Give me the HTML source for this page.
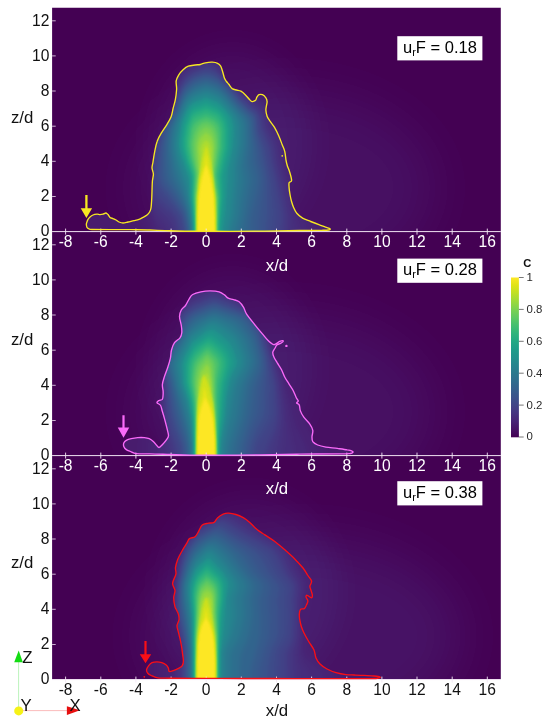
<!DOCTYPE html>
<html><head><meta charset="utf-8"><title>plume</title><style>
html,body{margin:0;padding:0;background:#fff}
svg{display:block}
text{font-family:"Liberation Sans",sans-serif}
</style></head><body>
<svg width="550" height="725" viewBox="0 0 550 725">
<defs>
<filter id="vir" color-interpolation-filters="sRGB" filterUnits="userSpaceOnUse" x="0" y="0" width="550" height="725"><feComponentTransfer><feFuncR type="table" tableValues="0.267 0.275 0.280 0.283 0.283 0.279 0.273 0.265 0.254 0.243 0.230 0.218 0.207 0.194 0.184 0.173 0.164 0.155 0.145 0.136 0.128 0.122 0.119 0.123 0.135 0.158 0.186 0.220 0.267 0.312 0.369 0.422 0.478 0.546 0.606 0.678 0.741 0.804 0.876 0.936 0.993"/><feFuncG type="table" tableValues="0.005 0.038 0.073 0.111 0.141 0.175 0.205 0.233 0.265 0.292 0.322 0.347 0.372 0.399 0.422 0.449 0.471 0.493 0.519 0.541 0.567 0.589 0.611 0.637 0.659 0.684 0.705 0.726 0.749 0.768 0.789 0.806 0.821 0.838 0.851 0.864 0.873 0.882 0.891 0.899 0.906"/><feFuncB type="table" tableValues="0.329 0.365 0.397 0.432 0.458 0.483 0.502 0.517 0.530 0.539 0.546 0.550 0.553 0.556 0.557 0.558 0.558 0.558 0.557 0.554 0.551 0.546 0.539 0.529 0.518 0.502 0.485 0.466 0.441 0.416 0.383 0.352 0.318 0.276 0.237 0.190 0.150 0.115 0.095 0.108 0.144"/></feComponentTransfer></filter>
<filter id="bf" color-interpolation-filters="sRGB" filterUnits="userSpaceOnUse" x="0" y="0" width="550" height="725"><feGaussianBlur stdDeviation="2.6"/></filter>
<filter id="bm" color-interpolation-filters="sRGB" filterUnits="userSpaceOnUse" x="0" y="0" width="550" height="725"><feGaussianBlur stdDeviation="1.6"/></filter>
<filter id="bc" color-interpolation-filters="sRGB" filterUnits="userSpaceOnUse" x="0" y="0" width="550" height="725"><feGaussianBlur stdDeviation="1.3"/></filter>
<filter id="b1" color-interpolation-filters="sRGB" filterUnits="userSpaceOnUse" x="-100" y="-100" width="750" height="925"><feGaussianBlur stdDeviation="1"/></filter>
<filter id="b2" color-interpolation-filters="sRGB" filterUnits="userSpaceOnUse" x="-100" y="-100" width="750" height="925"><feGaussianBlur stdDeviation="2"/></filter>
<filter id="b3" color-interpolation-filters="sRGB" filterUnits="userSpaceOnUse" x="-100" y="-100" width="750" height="925"><feGaussianBlur stdDeviation="3"/></filter>
<filter id="b4" color-interpolation-filters="sRGB" filterUnits="userSpaceOnUse" x="-100" y="-100" width="750" height="925"><feGaussianBlur stdDeviation="4"/></filter>
<filter id="b6" color-interpolation-filters="sRGB" filterUnits="userSpaceOnUse" x="-100" y="-100" width="750" height="925"><feGaussianBlur stdDeviation="6"/></filter>
<filter id="b8" color-interpolation-filters="sRGB" filterUnits="userSpaceOnUse" x="-100" y="-100" width="750" height="925"><feGaussianBlur stdDeviation="8"/></filter>
<filter id="b10" color-interpolation-filters="sRGB" filterUnits="userSpaceOnUse" x="-100" y="-100" width="750" height="925"><feGaussianBlur stdDeviation="10"/></filter>
<filter id="b12" color-interpolation-filters="sRGB" filterUnits="userSpaceOnUse" x="-100" y="-100" width="750" height="925"><feGaussianBlur stdDeviation="12"/></filter>
<filter id="b16" color-interpolation-filters="sRGB" filterUnits="userSpaceOnUse" x="-100" y="-100" width="750" height="925"><feGaussianBlur stdDeviation="16"/></filter>
<filter id="b20" color-interpolation-filters="sRGB" filterUnits="userSpaceOnUse" x="-100" y="-100" width="750" height="925"><feGaussianBlur stdDeviation="20"/></filter>
<filter id="b26" color-interpolation-filters="sRGB" filterUnits="userSpaceOnUse" x="-100" y="-100" width="750" height="925"><feGaussianBlur stdDeviation="26"/></filter>
<clipPath id="c0"><rect x="52.1" y="7.7" width="448.7" height="223.9"/></clipPath>
<clipPath id="c1"><rect x="52.1" y="231.6" width="448.7" height="224.00000000000003"/></clipPath>
<clipPath id="c2"><rect x="52.1" y="455.6" width="448.7" height="223.69999999999993"/></clipPath>
<linearGradient id="cb" x1="0" y1="1" x2="0" y2="0">
<stop offset="0.00" stop-color="#440154"/>
<stop offset="0.05" stop-color="#471365"/>
<stop offset="0.10" stop-color="#482475"/>
<stop offset="0.15" stop-color="#463480"/>
<stop offset="0.20" stop-color="#414487"/>
<stop offset="0.25" stop-color="#3b528b"/>
<stop offset="0.30" stop-color="#355f8d"/>
<stop offset="0.35" stop-color="#2f6c8e"/>
<stop offset="0.40" stop-color="#2a788e"/>
<stop offset="0.45" stop-color="#25848e"/>
<stop offset="0.50" stop-color="#21918c"/>
<stop offset="0.55" stop-color="#1e9c89"/>
<stop offset="0.60" stop-color="#22a884"/>
<stop offset="0.65" stop-color="#2fb47c"/>
<stop offset="0.70" stop-color="#44bf70"/>
<stop offset="0.75" stop-color="#5ec962"/>
<stop offset="0.80" stop-color="#7ad151"/>
<stop offset="0.85" stop-color="#9bd93c"/>
<stop offset="0.90" stop-color="#bddf26"/>
<stop offset="0.95" stop-color="#dfe318"/>
<stop offset="1.00" stop-color="#fde725"/>
</linearGradient>
</defs>
<rect width="550" height="725" fill="#fff"/>
<clipPath id="cc0"><path d="M110.0 229.6C103.7 229.6 95.5 229.6 92.0 229.5C88.5 229.4 89.8 229.2 89.0 228.8C88.2 228.5 87.4 228.0 87.0 227.4C86.6 226.8 86.5 225.7 86.4 225.0C86.3 224.3 86.3 223.9 86.6 223.0C86.9 222.1 87.4 220.4 88.0 219.4C88.6 218.4 89.2 217.7 90.0 217.0C90.8 216.3 91.8 215.5 93.0 215.0C94.2 214.5 95.8 214.3 97.0 214.2C98.2 214.1 99.0 214.6 100.0 214.6C101.0 214.6 102.0 214.5 103.0 214.2C104.0 213.9 105.2 212.9 106.0 213.0C106.8 213.1 107.3 213.9 108.0 214.6C108.7 215.3 109.2 216.7 110.0 217.4C110.8 218.1 112.0 218.2 113.0 218.6C114.0 219.0 115.0 219.4 116.0 220.0C117.0 220.6 117.8 221.5 119.0 222.0C120.2 222.5 121.5 223.0 123.0 223.0C124.5 223.0 126.2 222.4 128.0 222.0C129.8 221.6 132.2 221.0 134.0 220.6C135.8 220.2 137.5 219.9 139.0 219.4C140.5 218.9 141.7 218.1 143.0 217.4C144.3 216.7 145.9 215.9 147.0 215.0C148.1 214.1 148.9 213.2 149.6 212.0C150.3 210.8 150.7 209.8 151.0 208.0C151.3 206.2 151.4 203.8 151.6 201.0C151.8 198.2 151.9 194.3 152.0 191.0C152.1 187.7 152.2 183.8 152.4 181.0C152.6 178.2 153.5 176.2 153.4 174.0C153.3 171.8 152.1 170.0 152.0 168.0C151.9 166.0 152.6 164.7 153.0 162.0C153.4 159.3 154.0 155.1 154.7 151.6C155.4 148.1 156.0 144.4 157.2 141.2C158.3 138.0 160.0 135.3 161.6 132.6C163.2 129.9 165.1 127.4 166.7 124.8C168.3 122.2 169.9 119.7 171.0 117.0C172.1 114.3 172.4 111.3 173.1 108.4C173.8 105.5 174.7 103.0 175.3 99.8C175.9 96.6 176.4 92.7 176.6 89.5C176.8 86.3 175.8 83.4 176.2 80.9C176.6 78.5 177.7 76.7 178.8 74.8C180.0 72.9 181.5 71.1 183.1 69.7C184.7 68.3 186.3 67.0 188.3 66.2C190.3 65.4 193.2 65.3 195.2 65.0C197.2 64.7 198.6 64.9 200.3 64.5C202.0 64.1 203.5 63.2 205.5 62.8C207.5 62.4 210.4 62.1 212.4 62.2C214.4 62.3 216.2 62.6 217.6 63.3C219.0 64.0 219.8 64.7 220.7 66.2C221.6 67.7 222.2 70.2 222.8 72.2C223.4 74.2 223.9 76.8 224.5 78.3C225.1 79.8 225.8 80.5 226.5 81.5C227.2 82.5 227.9 83.1 228.8 84.3C229.8 85.5 230.9 87.6 232.2 88.6C233.5 89.5 235.1 89.6 236.6 90.0C238.1 90.4 239.5 90.4 240.9 91.2C242.3 92.0 243.8 93.3 245.2 94.7C246.6 96.1 248.3 98.3 249.5 99.5C250.7 100.7 251.1 101.5 252.1 101.6C253.1 101.7 254.7 101.0 255.5 100.3C256.3 99.6 256.3 98.1 256.9 97.2C257.5 96.3 258.1 95.1 259.0 94.7C259.9 94.3 261.2 94.2 262.4 94.7C263.5 95.2 265.1 96.7 265.9 97.8C266.7 98.9 267.0 100.2 267.1 101.6C267.2 102.9 266.6 104.5 266.4 105.9C266.2 107.3 265.8 108.5 265.9 110.2C266.0 111.9 266.4 114.3 267.1 116.2C267.8 118.1 269.0 119.5 270.2 121.4C271.4 123.3 273.1 125.0 274.5 127.4C275.9 129.8 277.5 133.1 278.8 136.0C280.1 138.9 281.2 142.1 282.2 144.7C283.2 147.3 284.2 149.0 284.8 151.6C285.4 154.2 285.6 157.8 286.0 160.2C286.4 162.6 286.8 164.1 287.4 166.0C288.0 167.9 288.8 169.1 289.5 171.5C290.2 173.9 291.7 178.6 291.6 180.5C291.5 182.4 289.5 181.5 289.1 182.7C288.7 183.9 289.0 185.9 289.1 187.9C289.2 189.9 289.6 192.3 290.0 194.5C290.4 196.7 290.8 198.8 291.4 201.0C292.0 203.2 292.7 205.5 293.6 207.6C294.5 209.7 295.3 211.5 296.8 213.3C298.3 215.1 300.3 216.8 302.6 218.2C304.9 219.6 308.0 220.4 310.7 221.5C313.4 222.6 316.4 223.8 318.9 224.7C321.4 225.6 323.6 226.5 325.5 227.2C327.4 227.9 329.5 228.3 330.0 228.8C330.5 229.3 330.0 229.8 328.7 230.0C327.4 230.2 326.8 230.2 322.0 230.3C317.2 230.4 309.5 230.4 300.0 230.5C290.5 230.6 276.7 231.0 265.0 231.1C253.3 231.2 243.3 231.3 230.0 231.3C216.7 231.3 195.8 231.3 185.0 231.2C174.2 231.1 170.8 230.8 165.0 230.6C159.2 230.4 155.8 230.2 150.0 230.0C144.2 229.8 136.7 229.8 130.0 229.7C123.3 229.6 116.3 229.6 110.0 229.6Z"/></clipPath>
<g clip-path="url(#c0)"><g filter="url(#vir)">
<rect x="50.1" y="5.7" width="452.7" height="227.9" fill="#000"/>
<ellipse cx="285.3" cy="187.7" rx="149.3" ry="96.6" fill="#fff" opacity="0.045" filter="url(#b26)"/>
<ellipse cx="232.6" cy="143.8" rx="79.1" ry="96.6" fill="#fff" opacity="0.03" filter="url(#b16)"/>
<g clip-path="url(#cc0)"><g filter="url(#bf)">
<rect x="32.1" y="-12.3" width="488.7" height="263.9" fill="#131313"/>
<path d="M326.2 245.7 325.8 231.6 322.4 215.8 311.6 194.8 307.3 184.2 304.4 171.9 300.5 161.3 298.7 143.8 290.3 127.9 283.2 106.9 281.1 103.3 277.3 99.8 262.4 92.8 253.6 86.8 250.6 84.0 244.1 75.2 236.1 60.1 232.6 57.2 227.3 54.7 223.2 50.6 220.2 45.4 215.0 31.3 211.2 26.0 206.2 22.4 201.2 26.0 197.4 31.3 195.0 36.6 191.7 47.1 188.6 52.4 185.1 55.8 179.8 59.0 171.4 66.4 167.5 68.8 164.7 71.7 163.1 75.2 159.9 87.5 153.9 105.1 150.6 110.4 146.5 114.8 141.2 124.0 135.9 139.8 133.1 161.3 130.1 177.1 130.4 191.2 131.7 200.0 134.8 210.5 137.7 217.1 142.9 225.1 144.9 229.8 145.8 235.1 146.1 245.7Z" fill="#161616"/>
<path d="M317.4 245.7 317.1 231.6 314.5 219.3 311.8 212.3 303.6 196.5 299.2 185.9 295.7 171.9 291.8 161.3 290.1 145.5 280.7 124.4 275.5 110.4 273.0 106.9 265.9 99.7 250.1 89.9 243.1 84.8 234.9 73.5 229.6 64.7 212.0 47.1 206.2 39.9 200.8 47.1 192.1 56.9 181.6 64.1 173.3 73.5 171.5 77.0 167.7 89.3 160.5 103.3 156.9 108.6 148.2 118.9 145.0 124.4 142.1 131.5 139.1 142.0 133.6 175.4 133.6 184.2 135.6 194.7 138.6 203.5 150.0 224.6 152.1 233.4 152.5 245.7Z" fill="#191919"/>
<path d="M308.7 245.7 308.5 233.4 307.0 224.6 304.2 215.8 297.6 202.5 294.0 190.6 290.5 182.2 288.1 171.9 285.3 164.9 283.8 147.3 282.8 142.0 279.1 133.2 274.3 126.2 270.4 113.9 267.1 106.9 264.4 103.3 258.9 98.6 241.3 88.1 237.8 82.4 232.6 77.5 218.5 58.4 211.5 52.8 206.2 51.0 197.4 56.8 192.1 61.8 183.4 67.0 180.5 70.0 177.0 77.0 171.1 96.4 163.8 106.9 153.6 117.4 149.7 122.7 146.2 129.7 142.6 142.0 137.1 175.4 137.2 182.4 140.8 194.7 151.7 215.9 154.5 226.3 158.4 233.4 159.3 236.9 159.6 245.7Z" fill="#1d1d1d"/>
<path d="M299.9 245.7 299.0 229.8 294.0 213.9 291.7 200.0 285.3 177.6 282.2 163.1 279.4 143.8 276.7 136.7 270.4 126.2 265.5 110.4 262.4 105.9 257.7 101.6 241.3 91.1 236.1 83.7 225.7 73.5 216.7 61.3 211.5 57.1 208.0 56.1 202.7 58.2 186.9 68.0 181.6 72.9 177.3 82.3 171.1 103.7 159.7 115.6 152.8 124.4 149.6 131.5 146.2 143.8 141.2 175.4 141.6 182.4 143.3 187.7 148.2 198.0 155.2 220.1 162.3 227.6 164.3 231.6 165.2 236.9 165.3 245.7Z" fill="#212121"/>
<path d="M292.8 245.7 292.6 231.6 290.8 212.3 287.8 196.5 279.2 161.3 277.1 145.5 275.3 140.2 268.3 127.9 264.6 113.9 262.4 110.0 257.9 105.1 250.1 99.7 246.6 96.3 241.3 93.2 235.7 85.8 225.5 76.1 216.7 64.9 209.7 59.6 206.2 60.2 197.4 64.4 186.9 70.8 182.5 75.2 177.5 85.8 171.1 106.9 165.8 111.9 160.0 119.2 155.5 126.2 154.0 129.7 150.2 143.8 145.4 173.6 145.5 180.6 148.2 188.7 151.2 201.7 155.2 213.3 164.4 222.8 168.5 229.8 169.7 235.1 170.0 245.7Z" fill="#242424"/>
<path d="M289.0 245.7 288.6 217.5 285.9 200.0 276.7 161.3 274.6 145.5 272.5 140.2 266.8 129.7 263.2 115.6 261.4 112.1 257.2 107.2 250.1 102.3 246.2 98.1 241.3 94.9 234.3 86.2 225.5 78.2 216.7 67.7 209.7 62.7 206.2 63.1 197.4 66.9 188.6 71.9 183.4 76.9 178.6 85.8 172.2 106.9 171.1 108.9 167.4 112.1 161.1 120.9 155.9 131.5 154.4 136.7 148.6 175.4 149.6 187.7 152.0 198.2 155.2 207.1 167.6 219.3 172.1 226.3 174.0 233.4 174.4 245.7Z" fill="#282828"/>
<path d="M285.3 245.7 285.8 217.5 283.9 203.5 278.1 175.4 274.8 163.1 272.6 147.3 270.8 142.0 264.6 129.7 261.2 115.6 257.2 109.5 250.1 104.5 246.1 99.8 241.3 96.4 234.0 87.5 225.5 79.9 218.5 71.5 213.2 67.4 209.7 65.5 208.0 65.4 204.4 66.1 193.9 70.6 188.6 73.9 183.4 79.3 178.3 89.3 173.2 106.9 171.1 110.4 167.4 113.9 161.7 122.7 156.7 135.0 155.0 142.0 150.2 177.1 150.3 182.4 151.7 190.7 153.5 197.4 157.0 203.4 171.9 217.5 174.6 221.2 176.8 231.6 177.2 245.7Z" fill="#2c2c2c"/>
<path d="M281.5 245.7 281.7 233.4 283.1 217.5 282.2 208.8 276.2 177.1 272.4 161.3 270.3 147.3 262.6 129.7 259.3 115.6 256.1 110.4 250.1 106.4 246.0 101.6 241.3 97.8 232.6 87.5 225.5 81.4 218.5 73.2 215.0 70.5 209.7 67.9 206.2 67.5 192.1 73.3 186.9 77.4 182.8 82.3 178.6 91.0 173.2 108.6 167.3 115.6 161.4 126.2 157.0 139.2 155.7 145.5 151.6 177.1 151.7 182.4 153.1 189.4 155.2 194.9 158.8 199.8 174.6 215.2 175.8 217.5 179.4 231.6 179.8 245.7Z" fill="#323232"/>
<path d="M273.8 245.7 274.2 231.6 276.3 214.0 272.3 180.6 265.6 147.3 258.7 129.7 257.8 119.2 256.9 115.6 254.6 112.1 249.3 108.6 237.8 97.0 230.8 88.3 225.5 83.9 218.5 76.0 213.2 73.1 206.2 71.0 193.9 75.3 188.6 79.2 183.4 85.0 178.9 94.6 174.6 109.1 167.5 118.6 163.7 126.2 159.5 140.2 157.7 149.0 155.0 175.4 155.5 182.4 159.7 191.2 176.2 210.5 180.5 217.5 183.4 228.7 184.0 245.7Z" fill="#393939"/>
<path d="M265.9 245.7 266.1 231.6 268.0 212.3 267.7 180.6 261.6 147.3 256.5 131.5 255.5 117.4 253.6 114.1 248.4 110.4 241.3 103.3 229.4 89.3 223.8 84.5 218.5 78.6 213.2 76.1 206.2 73.9 193.9 78.1 186.9 84.0 183.4 88.3 179.7 96.3 174.6 111.7 169.1 119.2 165.6 126.2 160.5 147.3 158.9 173.6 159.5 180.6 162.3 186.5 167.5 192.7 182.2 214.0 183.5 217.5 185.7 229.8 186.4 245.7Z" fill="#414141"/>
<path d="M258.0 245.7 258.6 222.8 262.4 190.5 263.0 178.9 262.1 171.9 259.2 161.3 257.7 147.3 254.5 133.2 253.6 118.1 251.8 115.6 237.8 102.3 228.7 91.0 218.5 81.1 206.2 76.6 193.9 80.8 184.7 89.3 180.4 98.1 175.5 112.1 169.9 120.9 167.4 126.2 165.5 133.2 163.0 147.3 162.6 171.9 163.4 178.9 164.9 182.4 178.1 202.0 183.4 211.1 185.3 217.5 187.6 229.8 188.3 245.7Z" fill="#494949"/>
<path d="M250.2 245.7 250.7 217.5 256.6 191.2 258.2 180.6 257.8 175.4 254.2 161.3 254.1 147.3 252.2 133.2 251.8 120.9 251.3 119.2 248.6 115.6 236.4 103.3 227.3 92.0 218.5 83.8 206.2 79.2 193.9 83.6 185.1 91.6 181.6 98.7 176.3 112.9 169.2 126.2 167.4 133.2 165.6 145.5 165.8 162.5 167.2 177.1 169.4 182.4 178.1 196.3 185.1 210.8 188.8 228.1 189.4 245.7Z" fill="#525252"/>
<path d="M242.2 245.7 242.9 229.8 251.0 180.6 250.5 175.4 247.6 163.1 249.3 145.5 248.6 122.7 246.1 117.4 236.1 106.6 226.2 94.6 218.5 87.4 206.2 82.8 193.9 87.4 185.1 95.7 171.7 126.2 170.3 131.5 169.2 140.2 169.0 152.5 171.6 173.6 173.2 178.9 178.1 187.9 186.9 209.3 190.3 229.8 190.7 245.7Z" fill="#5c5c5c"/>
<path d="M234.5 245.7 234.9 233.4 239.2 217.5 241.2 198.2 243.9 182.4 243.6 177.1 241.8 166.6 245.0 143.8 244.8 124.4 243.9 120.9 242.0 117.4 225.5 97.7 218.5 91.3 206.2 86.5 193.9 91.2 188.6 95.7 185.1 99.9 174.3 126.2 172.0 138.5 171.9 150.8 174.8 168.3 186.9 202.1 188.6 210.5 191.3 228.1 191.7 245.7Z" fill="#666666"/>
<path d="M229.7 245.7 230.2 231.6 234.7 212.3 237.3 180.6 237.2 164.8 240.8 143.8 240.4 124.4 238.8 119.2 236.6 115.6 223.8 100.0 218.5 95.2 206.2 90.3 193.9 95.0 190.1 98.1 185.1 104.3 176.8 126.2 174.5 140.2 174.5 149.0 176.0 157.8 186.9 193.4 190.4 212.8 192.1 225.9 192.5 245.7Z" fill="#707070"/>
<path d="M225.5 245.7 225.8 231.6 229.4 214.0 232.3 182.4 232.4 166.6 236.6 143.8 236.5 126.2 234.0 117.4 230.7 112.1 225.5 105.9 218.5 99.2 206.2 94.2 193.9 98.9 190.4 101.5 186.9 106.0 183.4 113.2 180.0 122.7 177.1 140.2 177.0 147.3 178.6 156.0 187.6 184.2 189.3 200.0 192.1 216.8 193.1 245.7Z" fill="#7a7a7a"/>
</g><g filter="url(#bm)">
<path d="M222.4 245.7 222.6 229.8 225.3 208.8 227.7 170.1 232.2 147.3 233.1 135.0 233.0 126.2 232.0 120.9 229.6 115.6 222.5 106.9 218.5 103.2 206.2 98.1 193.9 102.7 190.7 105.1 188.6 107.8 185.3 113.9 182.1 122.7 179.6 138.5 179.4 145.5 180.5 152.5 188.6 175.9 189.6 180.6 190.1 196.5 192.1 210.1 193.1 222.8 193.7 245.7Z" fill="#858585"/>
<path d="M219.9 245.7 220.3 225.3 223.7 198.2 223.6 175.4 229.5 147.3 229.7 127.9 228.0 119.2 226.1 115.6 222.0 110.6 217.7 106.9 206.2 102.0 193.9 106.6 190.4 109.6 186.9 116.2 183.9 124.4 181.8 138.5 181.7 145.5 182.5 150.8 186.0 163.1 190.4 174.7 191.1 178.9 191.1 194.7 193.9 225.8 194.2 245.7Z" fill="#8f8f8f"/>
<path d="M218.6 245.7 218.8 229.8 221.8 196.5 221.0 175.4 226.9 147.3 227.1 129.7 225.4 120.9 220.3 113.0 216.7 110.2 206.2 105.9 193.9 110.4 190.7 113.9 185.8 126.2 183.9 138.5 184.3 149.0 187.3 161.3 191.1 171.9 192.2 177.1 192.2 196.5 193.9 217.5 194.5 245.7Z" fill="#999999"/>
<path d="M218.2 245.7 218.5 220.9 220.1 196.5 219.0 175.4 224.5 147.3 224.6 131.5 222.9 122.7 218.6 115.6 216.3 113.9 206.2 109.8 194.8 113.9 192.1 116.4 188.1 126.2 186.0 140.2 185.9 145.5 187.1 152.5 189.0 161.3 192.5 171.9 193.4 177.1 192.9 196.5 194.6 224.6 194.9 245.7Z" fill="#a3a3a3"/>
<path d="M217.8 245.7 219.0 196.5 217.2 175.4 222.1 147.3 222.0 131.5 220.6 124.4 217.4 119.2 213.2 116.5 206.2 113.7 197.4 116.9 193.7 119.2 191.8 122.7 190.0 127.9 188.1 140.2 188.0 145.5 189.0 152.5 194.4 175.4 193.7 196.5 195.3 245.7Z" fill="#adadad"/>
<path d="M217.4 245.7 218.1 196.5 215.7 173.6 219.8 147.3 219.7 135.0 218.6 127.9 216.7 124.1 213.2 120.8 206.2 117.8 198.4 120.9 193.9 125.3 192.1 129.7 190.3 142.0 190.3 147.3 191.7 157.8 195.0 170.1 195.6 175.4 194.3 196.5 195.7 245.7Z" fill="#b8b8b8"/>
<path d="M217.1 245.7 217.5 196.5 214.9 180.6 214.5 173.6 217.5 149.0 217.6 140.2 216.5 133.2 214.6 127.9 211.5 124.3 206.2 122.0 200.9 124.1 197.2 127.9 194.2 135.0 192.7 143.8 193.6 156.0 196.7 173.6 195.0 196.5 196.1 245.7Z" fill="#c2c2c2"/>
<path d="M216.7 245.7 216.9 198.2 214.3 182.4 213.7 173.6 215.6 143.8 214.4 136.7 212.4 131.5 209.7 128.5 206.2 126.8 201.0 129.7 199.2 132.2 196.6 138.5 195.3 145.5 195.7 154.3 197.8 171.9 195.6 198.2 196.5 245.7Z" fill="#cccccc"/>
<path d="M216.1 245.7 216.2 200.0 213.7 184.2 212.7 171.9 213.6 145.5 211.5 137.3 206.2 132.6 200.9 137.0 198.7 142.0 197.9 147.3 199.0 171.9 196.3 198.2 196.9 245.7Z" fill="#d6d6d6"/>
<path d="M215.4 245.7 215.3 200.0 212.2 180.6 211.5 149.0 209.7 143.3 206.2 139.4 202.3 143.8 200.6 149.0 200.3 175.4 197.1 198.2 197.3 245.7Z" fill="#e0e0e0"/>
</g><g filter="url(#bc)">
<path d="M196.6 245.7 196.6 231.6 196.8 214.0 197.4 196.5 199.0 178.9 201.8 161.3 204.3 150.8 206.2 145.5 208.1 150.8 210.6 161.3 213.4 178.9 215.0 196.5 215.6 214.0 215.8 231.6 215.8 245.7Z" fill="#ededed"/>
<path d="M196.9 245.7 196.9 239.5 196.9 233.4 197.0 227.2 197.1 221.1 197.2 214.9 197.5 208.8 197.8 202.6 198.1 196.5 198.8 190.3 199.6 184.2 200.6 178.0 202.4 171.9 204.3 165.7 205.3 159.6 206.2 155.2 207.1 159.6 208.1 165.7 210.0 171.9 211.8 178.0 212.8 184.2 213.6 190.3 214.3 196.5 214.6 202.6 214.9 208.8 215.2 214.9 215.3 221.1 215.4 227.2 215.5 233.4 215.5 239.5 215.5 245.7Z" fill="#f6f6f6"/>
<path d="M197.2 245.7 197.2 231.6 197.6 214.0 198.7 196.5 200.6 184.7 202.3 177.1 204.3 170.1 206.2 164.8 208.1 170.1 210.1 177.1 211.8 184.7 213.7 196.5 214.8 214.0 215.2 231.6 215.2 245.7Z" fill="#ffffff"/>
</g></g>
</g></g>
<clipPath id="cc1"><path d="M150.0 453.9C144.3 453.8 139.1 454.0 136.0 453.6C132.9 453.2 132.8 452.5 131.2 451.8C129.6 451.1 127.5 450.5 126.3 449.6C125.1 448.7 124.2 447.5 123.8 446.4C123.4 445.3 123.4 444.1 123.8 443.1C124.2 442.1 125.1 441.0 126.3 440.3C127.5 439.6 129.3 439.1 131.2 438.7C133.1 438.3 135.5 437.9 137.7 437.7C139.9 437.5 142.4 437.5 144.3 437.7C146.2 437.9 147.7 438.1 149.2 438.7C150.7 439.3 152.1 440.4 153.3 441.5C154.5 442.6 155.7 444.2 156.6 445.2C157.5 446.2 158.1 447.6 159.0 447.5C159.9 447.4 161.1 446.0 162.3 444.7C163.5 443.4 165.4 441.3 166.4 439.8C167.4 438.3 168.4 437.5 168.5 435.7C168.6 433.9 167.8 431.9 167.2 429.2C166.6 426.5 165.5 422.4 164.7 419.4C163.9 416.4 163.0 413.5 162.3 411.2C161.6 408.9 161.5 406.9 160.6 405.5C159.7 404.1 157.3 403.5 157.0 402.7C156.7 401.9 158.1 401.1 159.0 400.5C159.9 399.9 161.6 400.3 162.3 399.4C163.0 398.4 163.0 396.2 163.1 394.8C163.2 393.4 163.2 392.6 163.1 390.9C163.0 389.2 162.2 386.9 162.4 384.5C162.6 382.1 163.6 379.3 164.5 376.4C165.4 373.5 166.8 370.3 167.8 367.3C168.8 364.3 169.8 361.1 170.4 358.2C171.0 355.3 170.8 352.6 171.5 350.0C172.2 347.4 173.1 344.7 174.5 342.7C175.9 340.7 178.8 339.5 180.0 337.8C181.2 336.1 181.6 334.8 181.8 332.7C182.0 330.6 181.7 328.2 181.3 325.5C180.9 322.8 179.5 319.0 179.5 316.4C179.5 313.8 180.3 311.8 181.3 310.0C182.3 308.2 184.2 307.3 185.5 305.5C186.8 303.7 187.9 300.9 189.1 299.1C190.3 297.3 190.7 295.7 192.7 294.5C194.7 293.3 198.0 292.4 200.9 291.8C203.8 291.2 207.0 290.9 210.0 290.9C213.0 290.9 216.7 291.1 219.1 291.8C221.5 292.5 223.0 293.8 224.5 294.9C226.0 296.0 226.7 297.4 228.2 298.2C229.7 299.0 231.8 299.0 233.6 299.6C235.4 300.2 237.4 300.5 239.1 301.8C240.8 303.1 242.3 305.2 243.6 307.3C244.8 309.4 244.7 311.2 246.6 314.1C248.5 317.0 252.3 321.5 254.9 324.8C257.5 328.1 260.2 331.3 262.4 333.9C264.6 336.5 266.2 338.8 268.1 340.6C270.0 342.4 272.0 344.6 273.9 344.7C275.8 344.8 278.1 342.0 279.7 341.4C281.3 340.8 283.2 340.7 283.4 341.0C283.5 341.3 281.7 342.8 280.6 343.4C279.5 344.0 277.7 344.1 276.8 344.9C275.9 345.7 275.8 346.8 275.1 348.0C274.4 349.2 273.0 350.7 272.8 352.2C272.6 353.7 273.1 355.3 273.9 357.1C274.6 358.9 276.1 360.8 277.3 362.9C278.6 365.0 280.2 367.1 281.4 369.5C282.6 371.9 283.5 374.6 284.7 377.0C285.9 379.4 287.4 381.4 288.8 383.6C290.2 385.8 291.8 387.9 293.0 390.2C294.2 392.5 295.4 395.9 296.3 397.7C297.2 399.5 298.2 400.1 298.3 401.0C298.4 401.9 296.4 402.3 296.6 403.0C296.8 403.7 298.7 403.8 299.3 405.1C299.9 406.4 299.6 408.9 300.4 410.9C301.1 412.9 302.3 415.1 303.8 417.2C305.3 419.3 308.0 421.5 309.5 423.7C311.0 425.9 312.4 428.1 312.8 430.3C313.2 432.5 312.0 434.9 312.0 436.8C312.0 438.7 311.9 440.3 312.8 441.7C313.8 443.1 315.5 444.1 317.7 445.0C319.9 445.9 322.6 446.5 325.9 447.1C329.2 447.7 333.8 447.9 337.4 448.4C340.9 448.9 344.8 449.4 347.2 449.9C349.6 450.3 351.2 450.7 352.1 451.1C353.1 451.5 353.2 452.0 352.9 452.4C352.6 452.8 352.3 453.3 350.5 453.5C348.7 453.7 350.7 453.7 342.3 453.8C333.9 453.9 313.7 454.0 300.0 454.2C286.3 454.4 272.5 454.7 260.0 454.9C247.5 455.1 236.7 455.2 225.0 455.2C213.3 455.2 199.2 455.2 190.0 455.1C180.8 455.0 176.7 454.7 170.0 454.5C163.3 454.3 155.7 454.0 150.0 453.9Z"/></clipPath>
<g clip-path="url(#c1)"><g filter="url(#vir)">
<rect x="50.1" y="229.6" width="452.7" height="228.00000000000003" fill="#000"/>
<ellipse cx="285.3" cy="411.7" rx="149.3" ry="96.6" fill="#fff" opacity="0.045" filter="url(#b26)"/>
<ellipse cx="232.6" cy="367.8" rx="79.1" ry="96.6" fill="#fff" opacity="0.03" filter="url(#b16)"/>
<g clip-path="url(#cc1)"><g filter="url(#bf)">
<rect x="32.1" y="211.6" width="488.7" height="264.0" fill="#131313"/>
<path d="M326.2 469.7 325.9 448.6 324.2 439.8 320.7 432.8 316.9 428.3 310.5 415.2 300.1 383.6 294.8 364.2 278.7 318.6 270.9 309.8 257.2 298.6 248.3 294.0 237.8 286.3 227.3 282.4 224.4 279.9 220.6 274.6 216.7 262.4 214.3 257.1 210.6 251.8 206.2 248.4 201.8 251.8 197.4 258.3 195.1 264.1 191.1 278.1 188.0 283.4 185.1 286.5 175.5 294.0 168.8 297.5 165.8 299.9 154.3 315.0 150.9 322.1 147.7 337.9 142.1 353.7 140.5 360.7 140.6 366.0 143.9 383.6 144.2 397.6 139.3 445.1 138.9 469.7Z" fill="#161616"/>
<path d="M317.4 469.7 317.3 452.1 316.1 445.1 301.7 415.2 292.3 386.1 286.1 364.2 270.8 320.3 262.4 309.8 252.4 301.0 237.8 291.8 227.3 287.2 216.9 279.9 210.7 274.6 206.2 267.9 195.0 285.2 176.1 299.2 169.6 306.3 162.0 316.8 159.6 322.1 156.4 337.9 150.8 353.7 149.2 360.7 149.3 366.0 152.6 383.6 152.9 397.6 148.0 445.1 147.7 469.7Z" fill="#191919"/>
<path d="M307.2 469.7 307.2 453.8 306.2 446.8 295.8 424.1 289.2 397.6 285.3 386.6 282.5 371.3 274.7 349.3 268.6 327.3 263.7 316.8 257.2 308.5 250.1 303.0 237.8 295.2 227.3 290.7 213.2 282.3 206.2 281.2 196.0 290.4 185.1 296.6 176.3 304.5 168.0 318.6 166.2 323.8 162.3 340.8 156.2 355.5 155.2 362.5 155.4 367.8 159.1 385.3 159.5 395.9 155.8 445.1 155.5 469.7Z" fill="#1d1d1d"/>
<path d="M294.1 469.7 293.6 448.6 288.8 428.1 286.2 406.4 281.0 376.5 274.7 356.8 268.1 332.6 263.1 320.3 257.4 311.5 250.1 305.9 234.3 296.2 227.3 293.6 215.0 286.9 211.5 286.0 206.2 287.4 199.5 292.2 186.9 299.1 182.3 302.7 177.4 308.0 172.1 318.6 165.8 338.6 158.1 357.2 157.6 367.8 161.1 383.6 161.8 390.6 160.5 420.5 161.7 469.7Z" fill="#212121"/>
<path d="M283.3 469.7 283.3 450.3 284.6 420.5 283.4 404.6 279.2 376.5 266.6 332.6 261.4 320.3 258.3 315.0 255.4 311.7 234.3 298.6 213.2 289.3 208.0 290.8 190.4 299.9 185.1 303.6 179.0 309.8 175.0 316.8 167.4 339.6 159.2 359.0 159.0 367.8 162.3 381.2 162.7 385.3 162.4 422.2 163.6 434.5 166.4 448.6 166.7 469.7Z" fill="#242424"/>
<path d="M277.2 469.7 277.4 450.3 280.5 434.5 281.9 422.2 281.7 408.2 278.4 380.0 265.9 334.4 259.9 320.3 255.3 313.3 232.6 299.8 213.2 292.1 209.7 293.1 192.1 301.5 185.1 306.4 179.8 311.8 176.0 318.6 167.6 343.2 160.5 359.0 159.9 366.0 162.3 376.4 163.5 387.1 164.0 420.5 165.4 431.0 169.4 448.6 169.8 469.7Z" fill="#282828"/>
<path d="M271.2 469.7 271.5 450.3 278.1 429.2 279.6 418.7 279.7 409.9 277.2 381.8 270.8 355.5 265.3 336.1 257.8 318.6 253.6 313.6 232.6 301.7 213.2 294.6 199.2 300.2 192.1 303.8 185.1 308.9 180.8 313.3 176.9 320.3 171.7 336.1 167.5 346.3 163.7 353.7 161.2 360.7 161.0 366.0 164.2 385.3 165.4 418.7 167.5 431.2 172.3 448.6 172.8 469.7Z" fill="#2c2c2c"/>
<path d="M265.2 469.7 265.3 453.8 265.9 448.6 274.7 429.7 276.9 420.5 277.6 411.7 276.1 383.6 270.2 357.2 265.3 339.6 259.2 323.8 256.5 318.6 253.6 315.0 246.6 310.6 232.6 303.5 215.0 296.9 213.2 296.8 193.9 304.8 186.9 309.5 181.6 314.8 178.1 321.0 173.0 336.1 162.6 359.0 162.0 366.0 164.9 385.3 166.5 415.2 169.3 430.1 175.3 448.6 175.8 469.7Z" fill="#323232"/>
<path d="M255.5 469.7 255.6 452.1 256.6 445.1 267.9 425.7 270.8 418.7 272.0 413.4 272.4 387.1 267.7 356.0 261.3 334.4 257.2 324.6 253.6 318.5 248.4 314.2 241.3 310.5 215.0 300.4 208.0 302.2 195.7 307.5 190.4 310.5 185.0 315.0 179.8 323.2 174.6 338.0 169.3 349.2 165.5 355.5 163.7 360.7 163.5 367.8 166.4 385.3 167.8 402.9 169.5 415.2 173.1 429.2 180.1 446.8 180.6 469.7Z" fill="#393939"/>
<path d="M250.5 469.7 250.7 450.3 251.8 443.3 256.5 431.0 263.1 418.7 264.9 411.7 266.7 371.3 266.6 364.2 265.5 357.2 258.9 334.0 253.9 323.8 250.2 318.6 241.3 312.7 215.0 303.3 208.0 305.3 193.9 311.3 186.8 316.8 179.8 328.3 174.9 341.4 165.0 360.7 165.0 369.5 168.0 383.6 172.4 413.4 175.2 424.0 179.8 435.7 182.8 446.8 183.4 469.7Z" fill="#414141"/>
<path d="M245.5 469.7 245.6 452.1 246.4 445.1 250.1 432.0 256.9 415.2 258.0 409.9 259.9 387.1 263.6 367.8 262.9 357.2 257.4 336.1 255.4 331.8 248.2 320.3 241.3 315.0 215.0 306.0 211.5 306.8 193.9 314.0 188.4 318.6 179.8 332.8 176.3 341.8 167.2 359.0 166.0 362.5 166.3 369.5 169.5 381.8 175.1 411.7 185.4 446.8 186.0 469.7Z" fill="#494949"/>
<path d="M240.5 469.7 241.1 446.8 250.4 413.4 253.7 387.1 260.1 369.5 260.9 364.2 260.6 359.0 257.7 344.9 255.4 337.6 248.4 325.8 244.1 320.3 239.0 316.8 215.0 308.7 211.5 309.5 195.7 315.9 192.1 318.3 188.6 322.0 180.3 336.1 167.5 363.3 167.7 367.8 171.1 380.0 177.6 409.9 187.6 445.1 188.3 452.1 188.3 469.7Z" fill="#525252"/>
<path d="M234.0 469.7 234.1 452.1 234.9 445.1 243.3 416.9 247.9 385.3 255.4 367.1 256.4 362.5 256.3 359.0 252.1 341.4 248.3 334.4 240.5 323.8 236.2 320.3 232.7 318.6 215.0 312.4 211.5 313.1 197.4 319.4 193.9 321.8 188.6 327.2 174.0 353.7 170.6 362.5 170.7 367.8 175.9 390.6 188.6 437.6 189.9 448.6 190.0 469.7Z" fill="#5c5c5c"/>
<path d="M227.8 469.7 227.8 452.1 228.6 445.1 237.0 416.9 242.0 385.3 250.5 366.0 251.2 359.0 246.3 341.4 243.3 336.1 239.6 331.4 234.3 325.8 229.0 322.2 215.0 316.3 211.5 316.9 202.7 321.0 190.4 330.2 186.3 336.1 176.0 355.5 173.5 362.5 173.7 367.8 177.6 387.1 189.3 431.0 191.2 446.8 191.4 469.7Z" fill="#666666"/>
<path d="M223.5 469.7 223.9 446.8 227.3 429.4 231.1 415.2 235.2 388.8 237.5 381.8 244.7 367.8 246.2 360.7 245.3 355.5 241.8 344.9 239.3 339.6 236.1 335.0 232.6 331.4 224.6 325.6 216.7 321.3 213.2 320.5 209.7 321.5 204.4 324.4 190.4 334.8 181.0 351.9 176.8 362.5 176.8 367.8 179.7 385.3 186.0 406.4 190.4 426.1 192.3 445.1 192.5 469.7Z" fill="#707070"/>
<path d="M221.0 469.7 221.4 446.8 225.9 420.5 228.4 399.4 232.2 381.8 239.7 367.8 241.1 360.7 240.1 355.5 236.8 346.7 232.6 338.6 222.0 330.0 213.2 324.9 211.5 324.9 206.2 327.6 193.9 336.3 190.4 339.6 182.3 355.5 180.0 362.5 180.0 369.5 181.8 385.3 186.9 400.8 190.4 415.7 193.1 445.1 193.3 469.7Z" fill="#7a7a7a"/>
</g><g filter="url(#bm)">
<path d="M219.5 469.7 220.1 441.5 224.0 418.7 226.5 394.1 229.5 380.0 230.8 376.0 235.7 366.0 236.5 360.7 233.1 350.2 229.0 342.8 220.3 334.8 214.6 330.9 211.5 329.7 206.2 331.8 192.1 342.4 184.4 357.2 182.4 364.2 183.5 383.6 188.6 400.7 192.0 420.5 193.9 445.9 194.0 469.7Z" fill="#858585"/>
<path d="M218.5 469.7 218.8 443.3 222.4 416.9 224.2 394.1 226.3 381.8 231.7 364.2 232.0 360.7 229.1 351.9 224.5 344.9 215.0 336.9 211.5 334.9 209.7 334.6 206.2 335.9 193.9 345.0 187.9 355.5 185.0 364.2 185.2 381.8 190.4 402.3 192.7 418.7 194.0 436.3 194.2 469.7Z" fill="#8f8f8f"/>
<path d="M218.2 469.7 218.5 433.5 220.7 415.2 221.8 395.9 223.4 383.6 227.8 366.0 228.1 360.7 225.6 353.7 220.3 346.7 213.2 340.9 209.7 339.0 208.0 338.9 199.2 344.7 193.9 349.5 188.9 359.0 187.2 366.0 187.1 381.8 192.0 404.6 193.9 423.6 194.5 469.7Z" fill="#999999"/>
<path d="M217.9 469.7 218.1 429.2 219.6 395.9 220.8 383.6 224.3 367.8 224.8 362.5 223.3 357.2 219.9 351.9 213.2 345.5 208.0 342.7 200.9 347.2 194.2 353.7 190.8 360.7 189.3 367.8 189.0 381.8 192.7 401.1 194.1 415.2 194.7 469.7Z" fill="#a3a3a3"/>
<path d="M217.6 469.7 217.5 395.9 218.3 383.6 221.2 367.8 221.4 362.5 220.3 358.7 216.8 353.7 211.5 348.6 208.0 346.5 204.2 348.4 195.7 356.4 192.7 362.5 191.4 369.5 190.8 381.8 193.9 401.0 194.6 411.7 195.0 469.7Z" fill="#adadad"/>
<path d="M217.3 469.7 217.1 431.0 215.8 394.1 216.2 380.0 218.2 364.2 217.4 360.7 215.3 357.2 208.0 350.3 204.4 352.1 196.3 360.7 194.3 366.0 193.0 374.8 192.8 383.6 194.7 397.6 195.4 408.2 195.3 469.7Z" fill="#b8b8b8"/>
<path d="M217.0 469.7 216.7 434.4 214.6 395.9 214.8 366.0 213.4 360.7 208.0 354.5 206.2 354.9 204.4 356.4 198.0 364.2 196.1 369.5 195.0 376.5 194.7 383.6 196.1 402.9 195.5 469.7Z" fill="#c2c2c2"/>
<path d="M216.7 469.7 216.4 441.5 212.5 371.3 211.3 364.2 208.0 359.2 206.2 359.5 200.8 366.0 198.5 371.3 196.7 380.0 195.9 469.7Z" fill="#cccccc"/>
<path d="M216.1 469.7 216.0 446.8 214.6 415.2 212.0 385.3 209.7 368.8 208.0 365.4 206.2 365.3 200.9 372.6 198.3 383.6 196.8 416.9 196.5 469.7Z" fill="#d6d6d6"/>
<path d="M215.4 469.7 215.3 446.8 213.9 411.7 209.7 379.1 208.0 374.3 206.2 372.9 204.4 374.1 200.9 380.2 199.5 388.8 197.3 416.9 197.1 469.7Z" fill="#e0e0e0"/>
<path d="M200.9 462.6 200.9 464.4 211.5 464.4 211.7 459.1 213.2 455.4 213.9 429.2 213.4 411.7 209.7 388.8 208.0 383.7 206.2 381.1 204.3 381.8 201.3 388.8 197.9 415.2 198.2 441.5 199.2 456.0 200.7 459.1 200.9 462.6Z" fill="#e9e9e9"/>
</g><g filter="url(#bc)">
<path d="M196.5 469.7 196.5 455.6 196.7 438.0 197.1 420.5 197.9 404.6 199.5 394.1 201.1 385.3 202.2 380.0 203.7 374.8 206.6 380.0 208.1 385.3 210.4 394.1 212.9 404.6 214.6 420.5 215.5 438.0 215.9 455.6 215.9 469.7Z" fill="#ededed"/>
<path d="M196.8 469.7 196.8 463.5 196.8 457.4 196.9 451.2 197.0 445.1 197.1 438.9 197.3 432.8 197.5 426.6 197.8 420.5 198.5 414.3 199.4 408.2 201.3 402.0 202.8 395.9 203.7 389.7 204.4 386.2 205.5 389.7 206.8 395.9 209.0 402.0 211.5 408.2 212.8 414.3 213.8 420.5 214.3 426.6 214.8 432.8 215.2 438.9 215.3 445.1 215.5 451.2 215.6 457.4 215.6 463.5 215.6 469.7Z" fill="#f6f6f6"/>
<path d="M197.2 469.7 197.2 455.6 197.4 438.0 198.5 420.5 199.7 413.4 201.6 406.4 203.4 402.0 205.0 397.6 207.3 402.0 209.2 406.4 211.5 413.4 213.1 420.5 214.8 438.0 215.2 455.6 215.2 469.7Z" fill="#ffffff"/>
</g></g>
</g></g>
<clipPath id="cc2"><path d="M170.0 678.2C159.6 678.1 160.8 678.4 157.7 677.9C154.6 677.4 152.9 676.3 151.2 675.5C149.5 674.7 148.4 674.0 147.6 673.0C146.8 672.0 146.4 670.9 146.6 669.7C146.8 668.5 147.8 666.8 148.7 665.6C149.6 664.4 150.6 663.3 152.0 662.7C153.4 662.1 155.3 661.9 156.9 661.9C158.5 661.9 160.3 662.2 161.8 662.7C163.3 663.2 164.8 663.9 165.9 664.8C167.0 665.7 167.9 667.0 168.4 668.1C168.9 669.2 168.4 671.0 169.2 671.4C170.0 671.8 171.7 671.1 173.3 670.6C174.9 670.1 177.5 668.9 179.0 668.1C180.5 667.3 181.6 666.8 182.3 665.6C183.0 664.4 183.4 662.6 183.4 660.7C183.4 658.8 182.9 656.7 182.6 654.2C182.3 651.8 182.0 648.7 181.5 646.0C181.0 643.3 180.4 640.2 179.8 637.8C179.2 635.3 178.7 633.3 178.2 631.3C177.7 629.2 176.9 627.4 177.0 625.5C177.1 623.6 178.8 621.6 179.0 619.8C179.2 618.0 178.9 616.1 178.5 614.5C178.1 612.9 177.1 611.3 176.5 610.0C175.9 608.7 175.5 608.8 175.0 606.8C174.5 604.8 173.7 600.4 173.7 597.7C173.7 595.0 175.2 592.9 175.0 590.5C174.8 588.1 172.4 585.9 172.6 583.2C172.8 580.5 175.4 576.7 175.9 574.1C176.4 571.5 175.2 570.1 175.5 567.7C175.8 565.3 176.6 562.4 177.7 559.5C178.8 556.6 180.8 553.2 182.3 550.5C183.8 547.8 185.6 545.2 186.8 543.2C188.0 541.2 188.1 539.7 189.5 538.6C190.9 537.5 193.5 538.0 195.0 536.8C196.5 535.6 197.4 533.4 198.6 531.4C199.8 529.4 200.6 526.4 202.3 525.0C204.0 523.6 206.6 523.7 208.6 523.2C210.6 522.8 212.6 523.2 214.1 522.3C215.6 521.4 216.2 519.1 217.7 517.7C219.2 516.3 221.4 514.9 223.2 514.1C225.0 513.4 226.5 513.1 228.6 513.2C230.7 513.3 233.5 513.8 235.9 514.5C238.3 515.2 240.9 516.4 243.2 517.7C245.5 519.0 247.5 520.6 249.5 522.3C251.5 524.0 253.3 526.2 255.0 527.7C256.7 529.2 257.9 530.2 259.5 531.4C261.1 532.6 262.3 533.2 264.9 534.9C267.4 536.6 271.5 539.0 274.8 541.5C278.1 544.0 281.5 546.9 284.8 549.8C288.1 552.7 291.7 555.9 294.7 558.9C297.7 561.9 300.8 565.2 303.0 568.0C305.2 570.8 306.5 573.3 307.9 575.5C309.3 577.7 311.3 579.5 311.6 581.3C311.9 583.1 309.9 584.6 309.9 586.2C309.8 587.9 310.9 589.7 311.3 591.2C311.7 592.7 312.4 594.2 312.4 595.3C312.4 596.4 312.2 597.8 311.3 597.8C310.4 597.8 308.0 595.4 307.1 595.3C306.2 595.2 305.9 596.0 306.0 597.0C306.1 598.0 307.8 599.7 307.9 601.1C307.9 602.5 306.9 604.0 306.3 605.3C305.7 606.5 305.3 607.9 304.3 608.6C303.3 609.3 301.3 608.4 300.5 609.4C299.7 610.4 299.4 612.5 299.3 614.4C299.2 616.3 299.6 618.9 300.0 621.0C300.4 623.1 300.8 625.0 301.5 627.0C302.2 629.0 302.8 630.5 304.0 633.0C305.2 635.5 307.3 639.2 309.0 642.0C310.7 644.8 312.8 647.3 314.0 650.0C315.2 652.7 315.0 655.7 316.0 658.0C317.0 660.3 318.2 662.2 320.0 664.0C321.8 665.8 324.3 667.6 327.0 669.0C329.7 670.4 332.8 671.7 336.0 672.6C339.2 673.5 343.0 674.2 346.0 674.6C349.0 675.0 351.0 674.9 354.0 675.0C357.0 675.1 360.7 675.2 364.0 675.4C367.3 675.6 371.3 675.7 374.0 676.0C376.7 676.3 379.3 676.6 380.0 677.0C380.7 677.4 379.7 677.9 378.0 678.2C376.3 678.5 379.7 678.5 370.0 678.6C360.3 678.7 336.7 678.6 320.0 678.6C303.3 678.6 286.7 678.5 270.0 678.5C253.3 678.5 236.7 678.4 220.0 678.4C203.3 678.4 180.4 678.3 170.0 678.2Z"/></clipPath>
<g clip-path="url(#c2)"><g filter="url(#vir)">
<rect x="50.1" y="453.6" width="452.7" height="227.69999999999993" fill="#000"/>
<ellipse cx="302.8" cy="635.7" rx="158.1" ry="96.6" fill="#fff" opacity="0.05" filter="url(#b26)"/>
<ellipse cx="250.1" cy="591.8" rx="87.8" ry="96.6" fill="#fff" opacity="0.03" filter="url(#b16)"/>
<g clip-path="url(#cc2)"><g filter="url(#bf)">
<rect x="32.1" y="435.6" width="488.7" height="263.69999999999993" fill="#131313"/>
<path d="M343.7 693.7 343.5 674.3 342.6 669.1 341.0 665.5 338.1 662.0 334.5 659.5 323.9 655.7 320.0 651.5 318.5 648.0 318.0 639.2 318.9 604.0 322.6 584.7 321.0 579.5 304.7 547.8 301.1 543.7 292.3 539.1 285.3 531.5 281.8 529.0 273.6 525.0 253.6 508.5 244.9 505.1 236.1 503.0 227.3 501.9 223.5 500.4 220.4 496.9 216.7 485.2 213.9 479.3 209.7 474.2 206.2 471.7 202.7 474.2 198.5 479.3 195.9 484.6 193.7 491.6 192.8 500.4 196.4 509.2 196.1 512.7 193.9 515.3 186.9 520.6 174.6 533.6 166.1 549.6 161.5 565.4 158.7 581.2 156.6 614.6 156.5 693.7Z" fill="#161616"/>
<path d="M335.0 693.7 334.8 676.1 333.5 670.8 329.2 665.8 323.9 663.1 315.1 656.3 311.1 651.5 309.8 648.0 309.2 639.2 310.2 604.0 313.8 584.7 312.2 579.5 298.5 553.1 285.3 537.7 280.0 534.1 271.2 529.4 265.9 524.7 248.4 512.1 239.6 508.1 234.3 506.5 229.0 505.5 216.7 505.0 213.3 503.9 211.9 502.1 208.0 492.8 206.2 490.6 204.2 493.4 202.4 498.6 202.5 502.1 204.5 509.2 203.5 512.7 200.8 516.2 192.1 521.6 188.6 527.0 181.6 534.4 173.6 553.1 169.5 568.9 167.3 583.0 165.4 614.6 165.2 693.7Z" fill="#191919"/>
<path d="M324.4 693.7 324.2 677.8 322.8 672.6 320.0 669.1 305.5 656.8 303.1 651.5 304.1 600.5 304.6 596.0 307.1 588.2 307.3 584.7 306.3 580.7 297.6 563.9 294.5 556.6 287.0 544.4 281.8 539.4 271.2 533.8 262.4 526.9 240.6 512.7 234.3 509.8 227.3 508.3 218.5 509.5 211.5 512.2 206.2 515.4 200.9 519.9 194.5 523.2 191.3 526.7 188.6 532.2 183.4 537.1 181.0 542.6 179.8 548.6 177.4 554.9 173.7 574.2 172.8 594.8 171.5 607.6 171.4 623.4 172.4 651.5 172.2 693.7Z" fill="#1d1d1d"/>
<path d="M310.0 693.7 310.0 679.6 309.3 674.3 307.6 670.8 302.2 663.8 299.9 655.0 301.3 637.4 301.9 600.5 303.2 586.5 301.7 579.5 296.7 570.7 287.6 551.3 281.8 543.5 236.3 514.4 230.8 511.9 227.3 511.2 220.3 512.0 211.5 515.6 200.9 522.6 197.4 524.0 194.0 526.7 188.6 535.5 185.1 538.6 183.4 541.3 178.6 556.6 174.7 579.5 172.7 612.8 173.5 628.6 176.5 649.7 175.7 693.7Z" fill="#212121"/>
<path d="M299.1 693.7 298.9 672.6 296.5 655.0 299.6 635.7 299.8 600.5 300.7 588.2 299.6 581.2 293.4 570.7 285.3 553.1 280.0 545.8 275.8 542.6 263.4 535.5 234.3 517.0 227.3 514.0 220.3 514.4 216.7 515.7 209.7 519.1 195.7 527.6 188.6 537.8 184.5 542.6 178.9 560.1 175.3 583.0 173.7 612.8 174.8 626.9 178.1 640.2 179.5 651.5 178.4 670.8 178.3 693.7Z" fill="#242424"/>
<path d="M294.7 693.7 294.6 672.6 293.0 655.0 296.7 640.9 297.4 635.7 297.6 600.5 298.6 588.2 297.6 582.1 290.5 571.2 282.2 553.1 276.5 546.2 241.3 525.2 230.4 518.0 227.3 516.7 222.0 516.3 218.5 516.9 213.2 519.3 197.4 528.3 195.7 529.8 185.1 544.3 179.5 561.9 175.9 586.5 174.7 612.8 175.9 625.1 179.8 642.0 180.8 649.7 179.6 672.6 179.6 693.7Z" fill="#282828"/>
<path d="M290.4 693.7 290.3 672.6 289.3 656.8 290.1 651.5 293.8 642.7 295.3 635.7 295.8 616.3 295.4 598.8 296.5 588.2 295.7 583.0 288.1 572.4 280.0 554.6 274.5 547.8 271.2 545.3 241.3 528.3 229.0 520.2 225.5 518.9 220.3 518.2 211.5 522.1 197.4 530.2 195.7 531.9 185.6 546.1 180.3 561.9 176.9 583.0 175.5 611.1 176.4 621.6 180.5 639.2 181.9 649.7 180.8 672.6 180.7 693.7Z" fill="#2c2c2c"/>
<path d="M286.1 693.7 285.5 656.8 286.5 651.5 291.2 642.7 293.0 635.7 293.8 616.3 293.2 598.8 294.4 588.2 294.0 584.7 292.3 581.4 286.0 574.2 278.2 557.1 272.8 549.6 269.5 547.1 241.3 531.2 229.0 523.1 225.5 521.4 220.3 520.0 211.5 523.9 197.4 532.0 195.8 533.8 185.9 547.8 180.7 563.6 177.3 584.7 176.3 609.3 177.1 619.9 181.6 639.1 182.8 648.0 181.8 693.7Z" fill="#323232"/>
<path d="M277.3 693.7 277.3 670.8 278.2 655.0 279.7 649.7 285.7 639.2 287.4 632.2 288.0 614.6 287.0 598.8 288.2 590.0 288.0 586.5 286.2 583.0 279.1 574.2 271.2 557.8 267.8 553.1 260.8 547.8 239.3 535.5 225.5 526.4 220.3 523.9 213.2 526.2 197.4 535.6 192.1 541.9 187.3 549.6 184.4 556.6 181.9 565.4 178.5 584.7 177.6 607.6 178.4 616.3 183.3 637.4 184.4 648.0 183.9 693.7Z" fill="#393939"/>
<path d="M267.8 693.7 268.0 672.6 270.0 656.8 271.9 649.7 276.9 639.2 278.1 633.9 278.7 614.6 277.6 600.5 279.5 588.2 278.9 584.7 270.5 574.2 261.9 558.4 257.9 553.1 251.0 547.8 237.8 540.1 223.6 530.3 220.3 528.3 218.5 528.3 215.0 528.5 202.4 535.5 197.4 539.0 192.1 545.2 188.5 551.3 185.1 559.5 180.4 579.5 179.1 590.0 179.0 605.8 179.9 614.6 184.5 635.7 186.1 649.7 185.8 693.7Z" fill="#414141"/>
<path d="M259.1 693.7 259.1 676.1 260.0 667.3 263.0 653.2 268.2 639.2 269.1 633.9 269.4 616.3 268.2 600.5 270.5 588.2 270.1 584.7 267.9 581.2 260.4 572.4 252.1 558.4 248.0 553.1 243.9 549.6 222.0 534.1 218.5 532.4 215.0 531.8 208.0 535.2 200.9 539.6 197.4 542.4 192.1 548.5 186.0 561.9 180.8 583.0 180.0 593.5 180.5 605.8 185.3 632.2 187.6 651.5 187.6 693.7Z" fill="#494949"/>
<path d="M250.7 693.7 250.8 674.3 251.5 667.3 260.0 635.7 260.3 616.3 259.1 600.5 262.2 588.2 262.0 584.7 260.2 581.2 253.5 574.2 242.5 556.6 239.6 553.2 227.3 542.4 220.3 537.6 215.0 535.2 208.0 538.0 202.7 541.5 197.4 545.8 192.1 552.0 186.9 564.0 181.6 584.7 181.6 602.3 186.4 630.4 188.8 649.7 189.1 693.7Z" fill="#525252"/>
<path d="M239.6 693.7 239.7 669.1 240.5 656.8 242.0 651.5 247.8 639.2 250.1 630.4 252.1 614.6 251.0 598.8 254.0 586.5 251.7 581.2 244.9 572.6 231.4 553.1 223.8 546.1 215.0 540.3 209.7 541.1 206.2 542.8 199.2 548.5 193.9 554.2 188.6 565.4 183.5 583.0 183.0 590.0 183.3 598.8 187.4 625.1 190.2 651.5 190.5 693.7Z" fill="#5c5c5c"/>
<path d="M230.3 693.7 230.6 655.0 232.4 649.7 238.6 639.2 241.6 628.6 244.2 614.6 243.1 598.8 246.2 588.2 246.2 584.7 244.7 581.2 225.5 554.9 215.5 546.1 209.7 544.9 208.0 545.4 202.7 549.6 195.7 556.3 193.9 558.9 189.0 570.7 185.1 584.7 185.2 597.0 188.6 620.7 191.0 648.0 191.5 693.7Z" fill="#666666"/>
<path d="M224.4 693.7 224.8 653.2 225.5 649.5 231.9 635.7 235.8 619.9 236.6 612.8 235.3 598.8 238.6 588.2 238.9 584.7 236.7 579.5 225.5 563.2 216.7 553.1 213.2 550.4 209.7 548.9 206.2 550.6 195.7 560.7 191.0 570.7 186.9 584.7 187.0 595.3 190.0 619.9 191.9 648.0 192.3 693.7Z" fill="#707070"/>
<path d="M221.7 693.7 222.1 653.2 223.4 646.2 226.5 635.7 229.5 616.3 228.9 597.0 232.4 588.2 232.8 584.7 231.1 579.5 224.5 568.9 213.2 556.3 209.7 553.6 208.0 553.6 195.7 565.2 191.1 575.9 188.7 584.7 188.9 597.0 191.1 616.3 192.1 634.5 192.8 693.7Z" fill="#7a7a7a"/>
</g><g filter="url(#bm)">
<path d="M220.0 693.7 220.3 651.4 223.0 632.2 226.4 595.3 228.1 584.7 226.8 579.5 222.7 572.4 211.5 560.4 208.0 558.2 199.4 565.4 195.7 569.8 191.8 579.5 190.3 586.5 190.2 597.0 192.4 619.9 193.4 693.7Z" fill="#858585"/>
<path d="M219.3 693.7 219.4 655.0 220.3 635.0 222.0 612.8 224.1 598.8 224.8 584.7 223.3 579.5 220.3 574.4 215.0 568.7 208.0 562.8 204.4 564.7 196.9 572.4 193.1 581.2 191.7 588.2 191.4 597.0 193.1 616.3 193.9 693.7Z" fill="#8f8f8f"/>
<path d="M218.6 693.7 218.7 655.0 219.9 619.9 222.4 597.0 222.5 586.5 221.2 581.2 218.5 576.7 208.0 567.0 206.2 567.1 204.4 568.4 197.4 575.8 194.3 583.0 193.0 590.0 192.7 598.8 193.9 614.6 194.2 693.7Z" fill="#999999"/>
<path d="M218.2 693.7 218.8 616.3 220.6 597.0 220.5 588.2 219.3 583.0 216.7 578.6 208.0 570.9 206.2 570.6 199.2 577.3 197.4 579.9 195.1 586.5 194.0 593.5 194.7 612.8 194.4 693.7Z" fill="#a3a3a3"/>
<path d="M217.9 693.7 217.7 612.8 218.9 598.8 218.6 590.0 217.5 584.7 215.5 581.2 208.0 574.7 206.2 574.1 200.5 579.5 198.1 583.0 196.3 588.2 195.1 595.3 195.5 612.8 194.6 637.4 194.7 693.7Z" fill="#adadad"/>
<path d="M217.6 693.7 217.6 635.7 216.5 612.8 217.1 593.5 216.2 588.2 214.9 584.7 211.5 581.1 208.0 578.3 206.2 577.8 199.2 585.3 196.4 597.0 196.3 612.8 195.0 637.4 195.0 693.7Z" fill="#b8b8b8"/>
<path d="M217.3 693.7 217.1 637.4 215.4 612.8 215.5 595.3 214.5 590.0 212.8 586.5 208.0 582.1 206.2 581.8 202.7 584.9 200.4 588.2 199.0 591.8 197.7 598.8 195.4 637.4 195.2 693.7Z" fill="#c2c2c2"/>
<path d="M217.0 693.7 216.6 637.4 214.4 614.6 214.0 597.0 213.2 592.9 211.5 589.1 208.0 586.3 206.2 586.2 202.7 589.2 200.9 592.4 198.8 602.3 195.9 637.4 195.5 693.7Z" fill="#cccccc"/>
<path d="M216.5 693.7 215.9 637.4 213.7 618.1 212.9 600.5 211.5 594.0 208.0 591.0 206.2 591.0 202.7 594.0 200.9 598.6 200.0 604.0 196.6 637.4 196.0 693.7Z" fill="#d6d6d6"/>
<path d="M215.7 693.7 215.0 635.7 212.9 623.4 211.5 601.5 209.7 598.4 208.0 597.0 206.2 597.0 202.7 600.6 200.9 606.7 199.3 625.1 197.4 635.2 196.8 693.7Z" fill="#e0e0e0"/>
</g><g filter="url(#bc)">
<path d="M196.4 693.7 196.4 679.6 196.5 662.0 197.2 644.5 198.1 633.9 199.0 626.9 200.6 618.1 202.3 609.3 204.4 602.3 206.2 597.0 208.0 602.3 210.1 609.3 211.8 618.1 213.2 626.9 214.1 633.9 215.2 644.5 215.9 662.0 216.0 679.6 216.0 693.7Z" fill="#ededed"/>
<path d="M196.7 693.7 196.7 687.5 196.7 681.4 196.7 675.2 196.8 669.1 196.8 662.9 197.1 656.8 197.4 650.6 197.6 644.5 198.3 638.3 199.2 632.2 200.9 626.0 203.4 619.9 204.8 613.7 206.1 607.6 207.4 613.7 208.8 619.9 211.3 626.0 212.9 632.2 213.9 638.3 214.7 644.5 215.0 650.6 215.3 656.8 215.6 662.9 215.6 669.1 215.7 675.2 215.7 681.4 215.7 687.5 215.7 693.7Z" fill="#f6f6f6"/>
<path d="M197.0 693.7 197.0 679.6 197.2 662.0 198.0 644.5 199.2 635.7 200.9 628.6 203.2 622.5 206.0 618.1 208.8 622.5 211.1 628.6 212.9 635.7 214.2 644.5 215.2 662.0 215.4 679.6 215.4 693.7Z" fill="#ffffff"/>
</g></g>
</g></g>
<path d="M52.1 231.6 H500.8" stroke="#f3e6f5" stroke-width="1" opacity="0.95"/>
<path d="M65.6 228.6 v6M100.8 228.6 v6M135.9 228.6 v6M171.1 228.6 v6M206.2 228.6 v6M241.3 228.6 v6M276.5 228.6 v6M311.6 228.6 v6M346.8 228.6 v6M381.9 228.6 v6M417.0 228.6 v6M452.2 228.6 v6M487.3 228.6 v6" stroke="#f3e6f5" stroke-width="1" opacity="0.9"/>
<path d="M52.1 196.5 h3.6M52.1 161.3 h3.6M52.1 126.2 h3.6M52.1 91.0 h3.6M52.1 55.9 h3.6M52.1 20.8 h3.6" stroke="#ecdff0" stroke-width="1" opacity="0.8"/>
<text x="65.6" y="246.5" font-size="15.6" fill="#fff" text-anchor="middle">-8</text>
<text x="100.8" y="246.5" font-size="15.6" fill="#fff" text-anchor="middle">-6</text>
<text x="135.9" y="246.5" font-size="15.6" fill="#fff" text-anchor="middle">-4</text>
<text x="171.1" y="246.5" font-size="15.6" fill="#fff" text-anchor="middle">-2</text>
<text x="206.2" y="246.5" font-size="15.6" fill="#fff" text-anchor="middle">0</text>
<text x="241.3" y="246.5" font-size="15.6" fill="#fff" text-anchor="middle">2</text>
<text x="276.5" y="246.5" font-size="15.6" fill="#fff" text-anchor="middle">4</text>
<text x="311.6" y="246.5" font-size="15.6" fill="#fff" text-anchor="middle">6</text>
<text x="346.8" y="246.5" font-size="15.6" fill="#fff" text-anchor="middle">8</text>
<text x="381.9" y="246.5" font-size="15.6" fill="#fff" text-anchor="middle">10</text>
<text x="417.0" y="246.5" font-size="15.6" fill="#fff" text-anchor="middle">12</text>
<text x="452.2" y="246.5" font-size="15.6" fill="#fff" text-anchor="middle">14</text>
<text x="487.3" y="246.5" font-size="15.6" fill="#fff" text-anchor="middle">16</text>
<text x="277"  y="270.5" font-size="16.8" fill="#fff" text-anchor="middle">x/d</text>
 <text x="49.4" y="236.4" font-size="15.6" fill="#111" text-anchor="end">0</text>
 <text x="49.4" y="201.3" font-size="15.6" fill="#111" text-anchor="end">2</text>
 <text x="49.4" y="166.1" font-size="15.6" fill="#111" text-anchor="end">4</text>
 <text x="49.4" y="131.0" font-size="15.6" fill="#111" text-anchor="end">6</text>
 <text x="49.4" y="95.8" font-size="15.6" fill="#111" text-anchor="end">8</text>
 <text x="49.4" y="60.7" font-size="15.6" fill="#111" text-anchor="end">10</text>
 <text x="49.4" y="25.6" font-size="15.6" fill="#111" text-anchor="end">12</text>
 <text x="10.9" y="123.2" font-size="16.8" fill="#111">z/d</text>
<path d="M52.1 455.6 H500.8" stroke="#f3e6f5" stroke-width="1" opacity="0.95"/>
<path d="M65.6 452.6 v6M100.8 452.6 v6M135.9 452.6 v6M171.1 452.6 v6M206.2 452.6 v6M241.3 452.6 v6M276.5 452.6 v6M311.6 452.6 v6M346.8 452.6 v6M381.9 452.6 v6M417.0 452.6 v6M452.2 452.6 v6M487.3 452.6 v6" stroke="#f3e6f5" stroke-width="1" opacity="0.9"/>
<path d="M52.1 420.5 h3.6M52.1 385.3 h3.6M52.1 350.2 h3.6M52.1 315.0 h3.6M52.1 279.9 h3.6M52.1 244.8 h3.6" stroke="#ecdff0" stroke-width="1" opacity="0.8"/>
<text x="65.6" y="470.6" font-size="15.6" fill="#fff" text-anchor="middle">-8</text>
<text x="100.8" y="470.6" font-size="15.6" fill="#fff" text-anchor="middle">-6</text>
<text x="135.9" y="470.6" font-size="15.6" fill="#fff" text-anchor="middle">-4</text>
<text x="171.1" y="470.6" font-size="15.6" fill="#fff" text-anchor="middle">-2</text>
<text x="206.2" y="470.6" font-size="15.6" fill="#fff" text-anchor="middle">0</text>
<text x="241.3" y="470.6" font-size="15.6" fill="#fff" text-anchor="middle">2</text>
<text x="276.5" y="470.6" font-size="15.6" fill="#fff" text-anchor="middle">4</text>
<text x="311.6" y="470.6" font-size="15.6" fill="#fff" text-anchor="middle">6</text>
<text x="346.8" y="470.6" font-size="15.6" fill="#fff" text-anchor="middle">8</text>
<text x="381.9" y="470.6" font-size="15.6" fill="#fff" text-anchor="middle">10</text>
<text x="417.0" y="470.6" font-size="15.6" fill="#fff" text-anchor="middle">12</text>
<text x="452.2" y="470.6" font-size="15.6" fill="#fff" text-anchor="middle">14</text>
<text x="487.3" y="470.6" font-size="15.6" fill="#fff" text-anchor="middle">16</text>
<text x="277"  y="493.6" font-size="16.8" fill="#fff" text-anchor="middle">x/d</text>
 <text x="49.4" y="460.4" font-size="15.6" fill="#111" text-anchor="end">0</text>
 <text x="49.4" y="425.3" font-size="15.6" fill="#111" text-anchor="end">2</text>
 <text x="49.4" y="390.1" font-size="15.6" fill="#111" text-anchor="end">4</text>
 <text x="49.4" y="355.0" font-size="15.6" fill="#111" text-anchor="end">6</text>
 <text x="49.4" y="319.8" font-size="15.6" fill="#111" text-anchor="end">8</text>
 <text x="49.4" y="284.7" font-size="15.6" fill="#111" text-anchor="end">10</text>
 <text x="49.4" y="249.6" font-size="15.6" fill="#111" text-anchor="end">12</text>
 <text x="10.9" y="345.3" font-size="16.8" fill="#111">z/d</text>
<path d="M52.1 679.6 H500.8" stroke="#f3e6f5" stroke-width="1" opacity="0.95"/>
<path d="M65.6 676.6 v6M100.8 676.6 v6M135.9 676.6 v6M171.1 676.6 v6M206.2 676.6 v6M241.3 676.6 v6M276.5 676.6 v6M311.6 676.6 v6M346.8 676.6 v6M381.9 676.6 v6M417.0 676.6 v6M452.2 676.6 v6M487.3 676.6 v6" stroke="#f3e6f5" stroke-width="1" opacity="0.9"/>
<path d="M52.1 644.5 h3.6M52.1 609.3 h3.6M52.1 574.2 h3.6M52.1 539.0 h3.6M52.1 503.9 h3.6M52.1 468.8 h3.6" stroke="#ecdff0" stroke-width="1" opacity="0.8"/>
<text x="65.6" y="695.1" font-size="15.6" fill="#111" text-anchor="middle">-8</text>
<text x="100.8" y="695.1" font-size="15.6" fill="#111" text-anchor="middle">-6</text>
<text x="135.9" y="695.1" font-size="15.6" fill="#111" text-anchor="middle">-4</text>
<text x="171.1" y="695.1" font-size="15.6" fill="#111" text-anchor="middle">-2</text>
<text x="206.2" y="695.1" font-size="15.6" fill="#111" text-anchor="middle">0</text>
<text x="241.3" y="695.1" font-size="15.6" fill="#111" text-anchor="middle">2</text>
<text x="276.5" y="695.1" font-size="15.6" fill="#111" text-anchor="middle">4</text>
<text x="311.6" y="695.1" font-size="15.6" fill="#111" text-anchor="middle">6</text>
<text x="346.8" y="695.1" font-size="15.6" fill="#111" text-anchor="middle">8</text>
<text x="381.9" y="695.1" font-size="15.6" fill="#111" text-anchor="middle">10</text>
<text x="417.0" y="695.1" font-size="15.6" fill="#111" text-anchor="middle">12</text>
<text x="452.2" y="695.1" font-size="15.6" fill="#111" text-anchor="middle">14</text>
<text x="487.3" y="695.1" font-size="15.6" fill="#111" text-anchor="middle">16</text>
<text x="277"  y="716.2" font-size="16.8" fill="#111" text-anchor="middle">x/d</text>
 <text x="49.4" y="684.4" font-size="15.6" fill="#111" text-anchor="end">0</text>
 <text x="49.4" y="649.3" font-size="15.6" fill="#111" text-anchor="end">2</text>
 <text x="49.4" y="614.1" font-size="15.6" fill="#111" text-anchor="end">4</text>
 <text x="49.4" y="579.0" font-size="15.6" fill="#111" text-anchor="end">6</text>
 <text x="49.4" y="543.8" font-size="15.6" fill="#111" text-anchor="end">8</text>
 <text x="49.4" y="508.7" font-size="15.6" fill="#111" text-anchor="end">10</text>
 <text x="49.4" y="473.6" font-size="15.6" fill="#111" text-anchor="end">12</text>
 <text x="10.9" y="567.5" font-size="16.8" fill="#111">z/d</text>
<rect x="397.3" y="36.2" width="85.1" height="24.2" fill="#fff"/>
<text x="403" y="52.5" font-size="16.5" fill="#000">u<tspan font-size="11" dy="3">r</tspan><tspan dy="-3">F = 0.18</tspan></text>
<rect x="397.3" y="258.6" width="85.1" height="24.2" fill="#fff"/>
<text x="403" y="274.9" font-size="16.5" fill="#000">u<tspan font-size="11" dy="3">r</tspan><tspan dy="-3">F = 0.28</tspan></text>
<rect x="397.3" y="481.2" width="85.1" height="24.2" fill="#fff"/>
<text x="403" y="497.5" font-size="16.5" fill="#000">u<tspan font-size="11" dy="3">r</tspan><tspan dy="-3">F = 0.38</tspan></text>
<path d="M110.0 229.6C103.7 229.6 95.5 229.6 92.0 229.5C88.5 229.4 89.8 229.2 89.0 228.8C88.2 228.5 87.4 228.0 87.0 227.4C86.6 226.8 86.5 225.7 86.4 225.0C86.3 224.3 86.3 223.9 86.6 223.0C86.9 222.1 87.4 220.4 88.0 219.4C88.6 218.4 89.2 217.7 90.0 217.0C90.8 216.3 91.8 215.5 93.0 215.0C94.2 214.5 95.8 214.3 97.0 214.2C98.2 214.1 99.0 214.6 100.0 214.6C101.0 214.6 102.0 214.5 103.0 214.2C104.0 213.9 105.2 212.9 106.0 213.0C106.8 213.1 107.3 213.9 108.0 214.6C108.7 215.3 109.2 216.7 110.0 217.4C110.8 218.1 112.0 218.2 113.0 218.6C114.0 219.0 115.0 219.4 116.0 220.0C117.0 220.6 117.8 221.5 119.0 222.0C120.2 222.5 121.5 223.0 123.0 223.0C124.5 223.0 126.2 222.4 128.0 222.0C129.8 221.6 132.2 221.0 134.0 220.6C135.8 220.2 137.5 219.9 139.0 219.4C140.5 218.9 141.7 218.1 143.0 217.4C144.3 216.7 145.9 215.9 147.0 215.0C148.1 214.1 148.9 213.2 149.6 212.0C150.3 210.8 150.7 209.8 151.0 208.0C151.3 206.2 151.4 203.8 151.6 201.0C151.8 198.2 151.9 194.3 152.0 191.0C152.1 187.7 152.2 183.8 152.4 181.0C152.6 178.2 153.5 176.2 153.4 174.0C153.3 171.8 152.1 170.0 152.0 168.0C151.9 166.0 152.6 164.7 153.0 162.0C153.4 159.3 154.0 155.1 154.7 151.6C155.4 148.1 156.0 144.4 157.2 141.2C158.3 138.0 160.0 135.3 161.6 132.6C163.2 129.9 165.1 127.4 166.7 124.8C168.3 122.2 169.9 119.7 171.0 117.0C172.1 114.3 172.4 111.3 173.1 108.4C173.8 105.5 174.7 103.0 175.3 99.8C175.9 96.6 176.4 92.7 176.6 89.5C176.8 86.3 175.8 83.4 176.2 80.9C176.6 78.5 177.7 76.7 178.8 74.8C180.0 72.9 181.5 71.1 183.1 69.7C184.7 68.3 186.3 67.0 188.3 66.2C190.3 65.4 193.2 65.3 195.2 65.0C197.2 64.7 198.6 64.9 200.3 64.5C202.0 64.1 203.5 63.2 205.5 62.8C207.5 62.4 210.4 62.1 212.4 62.2C214.4 62.3 216.2 62.6 217.6 63.3C219.0 64.0 219.8 64.7 220.7 66.2C221.6 67.7 222.2 70.2 222.8 72.2C223.4 74.2 223.9 76.8 224.5 78.3C225.1 79.8 225.8 80.5 226.5 81.5C227.2 82.5 227.9 83.1 228.8 84.3C229.8 85.5 230.9 87.6 232.2 88.6C233.5 89.5 235.1 89.6 236.6 90.0C238.1 90.4 239.5 90.4 240.9 91.2C242.3 92.0 243.8 93.3 245.2 94.7C246.6 96.1 248.3 98.3 249.5 99.5C250.7 100.7 251.1 101.5 252.1 101.6C253.1 101.7 254.7 101.0 255.5 100.3C256.3 99.6 256.3 98.1 256.9 97.2C257.5 96.3 258.1 95.1 259.0 94.7C259.9 94.3 261.2 94.2 262.4 94.7C263.5 95.2 265.1 96.7 265.9 97.8C266.7 98.9 267.0 100.2 267.1 101.6C267.2 102.9 266.6 104.5 266.4 105.9C266.2 107.3 265.8 108.5 265.9 110.2C266.0 111.9 266.4 114.3 267.1 116.2C267.8 118.1 269.0 119.5 270.2 121.4C271.4 123.3 273.1 125.0 274.5 127.4C275.9 129.8 277.5 133.1 278.8 136.0C280.1 138.9 281.2 142.1 282.2 144.7C283.2 147.3 284.2 149.0 284.8 151.6C285.4 154.2 285.6 157.8 286.0 160.2C286.4 162.6 286.8 164.1 287.4 166.0C288.0 167.9 288.8 169.1 289.5 171.5C290.2 173.9 291.7 178.6 291.6 180.5C291.5 182.4 289.5 181.5 289.1 182.7C288.7 183.9 289.0 185.9 289.1 187.9C289.2 189.9 289.6 192.3 290.0 194.5C290.4 196.7 290.8 198.8 291.4 201.0C292.0 203.2 292.7 205.5 293.6 207.6C294.5 209.7 295.3 211.5 296.8 213.3C298.3 215.1 300.3 216.8 302.6 218.2C304.9 219.6 308.0 220.4 310.7 221.5C313.4 222.6 316.4 223.8 318.9 224.7C321.4 225.6 323.6 226.5 325.5 227.2C327.4 227.9 329.5 228.3 330.0 228.8C330.5 229.3 330.0 229.8 328.7 230.0C327.4 230.2 326.8 230.2 322.0 230.3C317.2 230.4 309.5 230.4 300.0 230.5C290.5 230.6 276.7 231.0 265.0 231.1C253.3 231.2 243.3 231.3 230.0 231.3C216.7 231.3 195.8 231.3 185.0 231.2C174.2 231.1 170.8 230.8 165.0 230.6C159.2 230.4 155.8 230.2 150.0 230.0C144.2 229.8 136.7 229.8 130.0 229.7C123.3 229.6 116.3 229.6 110.0 229.6Z" fill="none" stroke="#f7e722" stroke-width="1.35" stroke-linejoin="round"/>
<circle cx="282.2" cy="155.9" r="0.8" fill="#f7e722"/>
<path d="M85.25 195 H87.55000000000001 V209.3 H85.25Z M80.7 208.3 H92.10000000000001 L86.4 218Z" fill="#f7e722"/>
<path d="M150.0 453.9C144.3 453.8 139.1 454.0 136.0 453.6C132.9 453.2 132.8 452.5 131.2 451.8C129.6 451.1 127.5 450.5 126.3 449.6C125.1 448.7 124.2 447.5 123.8 446.4C123.4 445.3 123.4 444.1 123.8 443.1C124.2 442.1 125.1 441.0 126.3 440.3C127.5 439.6 129.3 439.1 131.2 438.7C133.1 438.3 135.5 437.9 137.7 437.7C139.9 437.5 142.4 437.5 144.3 437.7C146.2 437.9 147.7 438.1 149.2 438.7C150.7 439.3 152.1 440.4 153.3 441.5C154.5 442.6 155.7 444.2 156.6 445.2C157.5 446.2 158.1 447.6 159.0 447.5C159.9 447.4 161.1 446.0 162.3 444.7C163.5 443.4 165.4 441.3 166.4 439.8C167.4 438.3 168.4 437.5 168.5 435.7C168.6 433.9 167.8 431.9 167.2 429.2C166.6 426.5 165.5 422.4 164.7 419.4C163.9 416.4 163.0 413.5 162.3 411.2C161.6 408.9 161.5 406.9 160.6 405.5C159.7 404.1 157.3 403.5 157.0 402.7C156.7 401.9 158.1 401.1 159.0 400.5C159.9 399.9 161.6 400.3 162.3 399.4C163.0 398.4 163.0 396.2 163.1 394.8C163.2 393.4 163.2 392.6 163.1 390.9C163.0 389.2 162.2 386.9 162.4 384.5C162.6 382.1 163.6 379.3 164.5 376.4C165.4 373.5 166.8 370.3 167.8 367.3C168.8 364.3 169.8 361.1 170.4 358.2C171.0 355.3 170.8 352.6 171.5 350.0C172.2 347.4 173.1 344.7 174.5 342.7C175.9 340.7 178.8 339.5 180.0 337.8C181.2 336.1 181.6 334.8 181.8 332.7C182.0 330.6 181.7 328.2 181.3 325.5C180.9 322.8 179.5 319.0 179.5 316.4C179.5 313.8 180.3 311.8 181.3 310.0C182.3 308.2 184.2 307.3 185.5 305.5C186.8 303.7 187.9 300.9 189.1 299.1C190.3 297.3 190.7 295.7 192.7 294.5C194.7 293.3 198.0 292.4 200.9 291.8C203.8 291.2 207.0 290.9 210.0 290.9C213.0 290.9 216.7 291.1 219.1 291.8C221.5 292.5 223.0 293.8 224.5 294.9C226.0 296.0 226.7 297.4 228.2 298.2C229.7 299.0 231.8 299.0 233.6 299.6C235.4 300.2 237.4 300.5 239.1 301.8C240.8 303.1 242.3 305.2 243.6 307.3C244.8 309.4 244.7 311.2 246.6 314.1C248.5 317.0 252.3 321.5 254.9 324.8C257.5 328.1 260.2 331.3 262.4 333.9C264.6 336.5 266.2 338.8 268.1 340.6C270.0 342.4 272.0 344.6 273.9 344.7C275.8 344.8 278.1 342.0 279.7 341.4C281.3 340.8 283.2 340.7 283.4 341.0C283.5 341.3 281.7 342.8 280.6 343.4C279.5 344.0 277.7 344.1 276.8 344.9C275.9 345.7 275.8 346.8 275.1 348.0C274.4 349.2 273.0 350.7 272.8 352.2C272.6 353.7 273.1 355.3 273.9 357.1C274.6 358.9 276.1 360.8 277.3 362.9C278.6 365.0 280.2 367.1 281.4 369.5C282.6 371.9 283.5 374.6 284.7 377.0C285.9 379.4 287.4 381.4 288.8 383.6C290.2 385.8 291.8 387.9 293.0 390.2C294.2 392.5 295.4 395.9 296.3 397.7C297.2 399.5 298.2 400.1 298.3 401.0C298.4 401.9 296.4 402.3 296.6 403.0C296.8 403.7 298.7 403.8 299.3 405.1C299.9 406.4 299.6 408.9 300.4 410.9C301.1 412.9 302.3 415.1 303.8 417.2C305.3 419.3 308.0 421.5 309.5 423.7C311.0 425.9 312.4 428.1 312.8 430.3C313.2 432.5 312.0 434.9 312.0 436.8C312.0 438.7 311.9 440.3 312.8 441.7C313.8 443.1 315.5 444.1 317.7 445.0C319.9 445.9 322.6 446.5 325.9 447.1C329.2 447.7 333.8 447.9 337.4 448.4C340.9 448.9 344.8 449.4 347.2 449.9C349.6 450.3 351.2 450.7 352.1 451.1C353.1 451.5 353.2 452.0 352.9 452.4C352.6 452.8 352.3 453.3 350.5 453.5C348.7 453.7 350.7 453.7 342.3 453.8C333.9 453.9 313.7 454.0 300.0 454.2C286.3 454.4 272.5 454.7 260.0 454.9C247.5 455.1 236.7 455.2 225.0 455.2C213.3 455.2 199.2 455.2 190.0 455.1C180.8 455.0 176.7 454.7 170.0 454.5C163.3 454.3 155.7 454.0 150.0 453.9Z" fill="none" stroke="#fa6af9" stroke-width="1.35" stroke-linejoin="round"/>
<circle cx="286.4" cy="345.9" r="1.2" fill="#fa6af9"/>
<path d="M122.4 415.3 H124.6 V428.6 H122.4Z M117.75 427.6 H129.25 L123.5 437.8Z" fill="#fa6af9"/>
<path d="M170.0 678.2C159.6 678.1 160.8 678.4 157.7 677.9C154.6 677.4 152.9 676.3 151.2 675.5C149.5 674.7 148.4 674.0 147.6 673.0C146.8 672.0 146.4 670.9 146.6 669.7C146.8 668.5 147.8 666.8 148.7 665.6C149.6 664.4 150.6 663.3 152.0 662.7C153.4 662.1 155.3 661.9 156.9 661.9C158.5 661.9 160.3 662.2 161.8 662.7C163.3 663.2 164.8 663.9 165.9 664.8C167.0 665.7 167.9 667.0 168.4 668.1C168.9 669.2 168.4 671.0 169.2 671.4C170.0 671.8 171.7 671.1 173.3 670.6C174.9 670.1 177.5 668.9 179.0 668.1C180.5 667.3 181.6 666.8 182.3 665.6C183.0 664.4 183.4 662.6 183.4 660.7C183.4 658.8 182.9 656.7 182.6 654.2C182.3 651.8 182.0 648.7 181.5 646.0C181.0 643.3 180.4 640.2 179.8 637.8C179.2 635.3 178.7 633.3 178.2 631.3C177.7 629.2 176.9 627.4 177.0 625.5C177.1 623.6 178.8 621.6 179.0 619.8C179.2 618.0 178.9 616.1 178.5 614.5C178.1 612.9 177.1 611.3 176.5 610.0C175.9 608.7 175.5 608.8 175.0 606.8C174.5 604.8 173.7 600.4 173.7 597.7C173.7 595.0 175.2 592.9 175.0 590.5C174.8 588.1 172.4 585.9 172.6 583.2C172.8 580.5 175.4 576.7 175.9 574.1C176.4 571.5 175.2 570.1 175.5 567.7C175.8 565.3 176.6 562.4 177.7 559.5C178.8 556.6 180.8 553.2 182.3 550.5C183.8 547.8 185.6 545.2 186.8 543.2C188.0 541.2 188.1 539.7 189.5 538.6C190.9 537.5 193.5 538.0 195.0 536.8C196.5 535.6 197.4 533.4 198.6 531.4C199.8 529.4 200.6 526.4 202.3 525.0C204.0 523.6 206.6 523.7 208.6 523.2C210.6 522.8 212.6 523.2 214.1 522.3C215.6 521.4 216.2 519.1 217.7 517.7C219.2 516.3 221.4 514.9 223.2 514.1C225.0 513.4 226.5 513.1 228.6 513.2C230.7 513.3 233.5 513.8 235.9 514.5C238.3 515.2 240.9 516.4 243.2 517.7C245.5 519.0 247.5 520.6 249.5 522.3C251.5 524.0 253.3 526.2 255.0 527.7C256.7 529.2 257.9 530.2 259.5 531.4C261.1 532.6 262.3 533.2 264.9 534.9C267.4 536.6 271.5 539.0 274.8 541.5C278.1 544.0 281.5 546.9 284.8 549.8C288.1 552.7 291.7 555.9 294.7 558.9C297.7 561.9 300.8 565.2 303.0 568.0C305.2 570.8 306.5 573.3 307.9 575.5C309.3 577.7 311.3 579.5 311.6 581.3C311.9 583.1 309.9 584.6 309.9 586.2C309.8 587.9 310.9 589.7 311.3 591.2C311.7 592.7 312.4 594.2 312.4 595.3C312.4 596.4 312.2 597.8 311.3 597.8C310.4 597.8 308.0 595.4 307.1 595.3C306.2 595.2 305.9 596.0 306.0 597.0C306.1 598.0 307.8 599.7 307.9 601.1C307.9 602.5 306.9 604.0 306.3 605.3C305.7 606.5 305.3 607.9 304.3 608.6C303.3 609.3 301.3 608.4 300.5 609.4C299.7 610.4 299.4 612.5 299.3 614.4C299.2 616.3 299.6 618.9 300.0 621.0C300.4 623.1 300.8 625.0 301.5 627.0C302.2 629.0 302.8 630.5 304.0 633.0C305.2 635.5 307.3 639.2 309.0 642.0C310.7 644.8 312.8 647.3 314.0 650.0C315.2 652.7 315.0 655.7 316.0 658.0C317.0 660.3 318.2 662.2 320.0 664.0C321.8 665.8 324.3 667.6 327.0 669.0C329.7 670.4 332.8 671.7 336.0 672.6C339.2 673.5 343.0 674.2 346.0 674.6C349.0 675.0 351.0 674.9 354.0 675.0C357.0 675.1 360.7 675.2 364.0 675.4C367.3 675.6 371.3 675.7 374.0 676.0C376.7 676.3 379.3 676.6 380.0 677.0C380.7 677.4 379.7 677.9 378.0 678.2C376.3 678.5 379.7 678.5 370.0 678.6C360.3 678.7 336.7 678.6 320.0 678.6C303.3 678.6 286.7 678.5 270.0 678.5C253.3 678.5 236.7 678.4 220.0 678.4C203.3 678.4 180.4 678.3 170.0 678.2Z" fill="none" stroke="#fa0f16" stroke-width="1.35" stroke-linejoin="round"/>
<circle cx="144.3" cy="676.8" r="0.9" fill="#fa0f16"/>
<path d="M144.4 641.1 H146.6 V655.2 H144.4Z M139.75 654.2 H151.25 L145.5 663.3Z" fill="#fa0f16"/>
<rect x="511" y="277.5" width="7.9" height="159.8" fill="url(#cb)"/>
<text x="527.2" y="266.7" font-size="11.2" font-weight="bold" fill="#111" text-anchor="middle">C</text>
<path d="M518.9 437.0 h4.8" stroke="#555" stroke-width="0.8"/>
<text x="526.6" y="440.4" font-size="11.4" fill="#2a2a2a">0</text>
<path d="M518.9 405.1 h4.8" stroke="#555" stroke-width="0.8"/>
<text x="526.6" y="408.5" font-size="11.4" fill="#2a2a2a">0.2</text>
<path d="M518.9 373.2 h4.8" stroke="#555" stroke-width="0.8"/>
<text x="526.6" y="376.6" font-size="11.4" fill="#2a2a2a">0.4</text>
<path d="M518.9 341.3 h4.8" stroke="#555" stroke-width="0.8"/>
<text x="526.6" y="344.7" font-size="11.4" fill="#2a2a2a">0.6</text>
<path d="M518.9 309.4 h4.8" stroke="#555" stroke-width="0.8"/>
<text x="526.6" y="312.8" font-size="11.4" fill="#2a2a2a">0.8</text>
<path d="M518.9 277.5 h4.8" stroke="#555" stroke-width="0.8"/>
<text x="526.6" y="280.9" font-size="11.4" fill="#2a2a2a">1</text>
<path d="M18.6 707 V662" stroke="#b4f2b4" stroke-width="0.9"/>
<path d="M22 710.6 H68" stroke="#f9b4b4" stroke-width="0.9"/>
<path d="M14.2 662.3 L22.8 662.3 L18.7 650.4Z" fill="#12dc12"/>
<path d="M66.9 706.3 L66.9 715 L80 710.2Z" fill="#e60f0f"/>
<circle cx="18.7" cy="710.9" r="4.5" fill="#f6f216"/>
<text x="22.2" y="662.8" font-size="16.8" fill="#111">Z</text>
<text x="20.4" y="711.4" font-size="16.8" fill="#111">Y</text>
<text x="69.6" y="711" font-size="16.8" fill="#111">X</text>
</svg></body></html>
